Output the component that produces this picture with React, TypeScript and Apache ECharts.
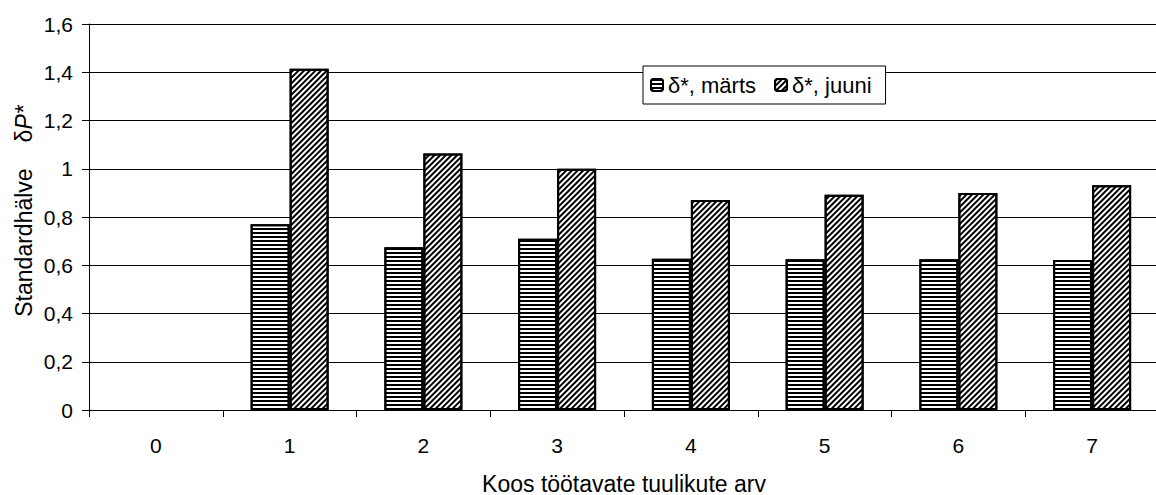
import React, { useEffect, useRef } from "react";
import * as echarts from "echarts";

const categories = ["0", "1", "2", "3", "4", "5", "6", "7"];
const seriesNames = ["δ*, märts", "δ*, juuni"];
const martsValues = [null, 0.77, 0.675, 0.71, 0.627, 0.625, 0.625, 0.622];
const juuniValues = [null, 1.415, 1.063, 1.0, 0.87, 0.892, 0.9, 0.932];
const yTicks = { min: 0, max: 1.6, interval: 0.2 };
const xTitle = "Koos töötavate tuulikute arv";
const yTitleMain = "Standardhälve";

const FONT = "'Liberation Sans', Arial, Helvetica, sans-serif";

export default function App() {
  const ref = useRef<HTMLDivElement>(null);
  useEffect(() => {
    if (!ref.current) return;
    const chart = echarts.init(ref.current, null, { renderer: "svg" });
    const barBase = {
      type: "bar",
      barWidth: 39,
      barGap: "0%",
      itemStyle: { color: "#fff", borderColor: "#000", borderWidth: 2 },
    };
    chart.setOption({
      animation: false,
      backgroundColor: "#fff",
      textStyle: { fontFamily: FONT, color: "#000" },
      grid: {
        left: 89,
        right: -3,
        top: 24,
        bottom: 85,
        containLabel: false,
        outerBoundsMode: "none",
      },
      legend: {
        left: 643,
        top: 66,
        orient: "horizontal",
        padding: [8, 14, 8, 7],
        itemWidth: 12,
        itemHeight: 12,
        itemGap: 18,
        backgroundColor: "#fff",
        borderColor: "#000",
        borderWidth: 1,
        borderRadius: 0,
        textStyle: { fontSize: 22, color: "#000", fontFamily: FONT, lineHeight: 22 },
        data: seriesNames,
      },
      xAxis: {
        type: "category",
        data: categories,
        name: xTitle,
        nameLocation: "middle",
        nameGap: 62,
        nameTextStyle: { fontSize: 23, color: "#000", fontFamily: FONT },
        axisLine: { lineStyle: { color: "#000", width: 1 } },
        axisTick: { show: true, length: 7, lineStyle: { color: "#000" } },
        axisLabel: { fontSize: 21, color: "#000", margin: 25, fontFamily: FONT },
      },
      yAxis: {
        type: "value",
        min: yTicks.min,
        max: yTicks.max,
        interval: yTicks.interval,
        axisLine: { show: true, lineStyle: { color: "#000", width: 1 } },
        axisTick: { show: true, length: 7, lineStyle: { color: "#000" } },
        axisLabel: {
          fontSize: 21,
          color: "#000",
          margin: 16,
          fontFamily: FONT,
          formatter: (v: number) => String(Number(v.toFixed(1))).replace(".", ","),
        },
        splitLine: { show: true, lineStyle: { color: "#000", width: 1 } },
      },
      graphic: [
        {
          type: "text",
          x: 24,
          y: 211,
          rotation: Math.PI / 2,
          style: {
            text: "{a|" + yTitleMain + "}{g|}{a|δ}{b|P*}",
            align: "center",
            verticalAlign: "middle",
            fill: "#000",
            rich: {
              a: { fontSize: 23, fontFamily: FONT, fill: "#000" },
              g: { width: 26 },
              b: { fontSize: 23, fontFamily: FONT, fontStyle: "italic", fill: "#000" },
            },
          },
        },
      ],
      series: [
        {
          ...barBase,
          name: seriesNames[0],
          data: martsValues,
          itemStyle: {
            ...barBase.itemStyle,
            decal: {
              symbol: "rect",
              symbolSize: 1,
              color: "#000",
              backgroundColor: null,
              dashArrayX: [1, 0],
              dashArrayY: [2, 2],
              rotation: 0,
            },
          },
        },
        {
          ...barBase,
          name: seriesNames[1],
          data: juuniValues,
          itemStyle: {
            ...barBase.itemStyle,
            decal: {
              symbol: "rect",
              symbolSize: 1,
              color: "#000",
              backgroundColor: null,
              dashArrayX: [1, 0],
              dashArrayY: [2, 1.6],
              rotation: -Math.PI / 4,
            },
          },
        },
      ],
    });
    return () => chart.dispose();
  }, []);
  return (
    <div
      ref={ref}
      style={{
        position: "fixed",
        left: 0,
        top: 0,
        width: 1156,
        height: 495,
        overflow: "hidden",
        background: "#fff",
      }}
    />
  );
}
